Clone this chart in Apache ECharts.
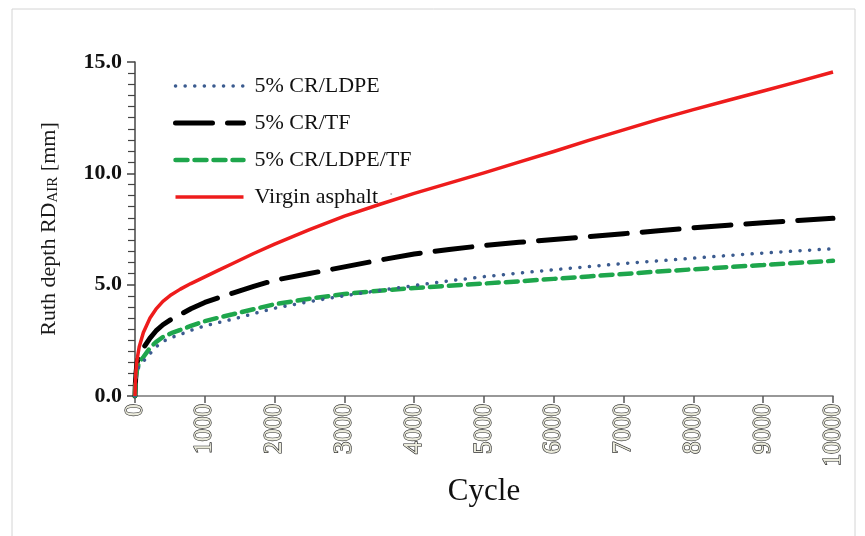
<!DOCTYPE html>
<html>
<head>
<meta charset="utf-8">
<script src="https://cdn.jsdelivr.net/npm/echarts@6/dist/echarts.min.js"></script>
<style>
  html, body { margin: 0; padding: 0; background: #ffffff; }
  #chart { width: 865px; height: 536px; }
</style>
</head>
<body>
<div id="chart"></div>
<script>
// Loading cycles at which rut depth was recorded
const cycles = [0, 5, 15, 30, 60, 120, 215, 300, 400, 520, 650, 800, 1000, 1200, 1400, 1700, 2000, 2500, 3000, 3500,
  4000, 4500, 5000, 5500, 6000, 6500, 7000, 7500, 8000, 8500, 9000, 9500, 10000];

// Rut depth RD_AIR [mm] for each mixture
const crLdpe = [0, 0.45, 0.8, 1.1, 1.35, 1.55, 1.9, 2.2, 2.45, 2.62, 2.77, 2.95, 3.15, 3.3, 3.45, 3.7, 3.94, 4.24, 4.5, 4.74,
  4.96, 5.17, 5.36, 5.52, 5.67, 5.81, 5.95, 6.07, 6.19, 6.31, 6.42, 6.52, 6.61];
const crTf = [0, 0.55, 1.05, 1.5, 1.85, 2.15, 2.6, 2.92, 3.2, 3.45, 3.66, 3.92, 4.2, 4.42, 4.62, 4.92, 5.2, 5.5, 5.8, 6.1,
  6.38, 6.58, 6.76, 6.9, 7.03, 7.16, 7.29, 7.42, 7.55, 7.67, 7.78, 7.88, 7.98];
const crLdpeTf = [0, 0.5, 0.9, 1.2, 1.5, 1.75, 2.16, 2.42, 2.65, 2.82, 2.97, 3.15, 3.36, 3.52, 3.67, 3.9, 4.12, 4.37, 4.58, 4.73,
  4.85, 4.95, 5.05, 5.15, 5.26, 5.37, 5.48, 5.59, 5.69, 5.79, 5.88, 5.98, 6.07];
const virgin = [0, 0.6, 1.15, 1.65, 2.2, 2.85, 3.5, 3.9, 4.25, 4.55, 4.8, 5.05, 5.35, 5.65, 5.95, 6.4, 6.82, 7.47, 8.08, 8.6,
  9.1, 9.56, 10.02, 10.5, 10.98, 11.48, 11.95, 12.42, 12.86, 13.28, 13.7, 14.12, 14.55];

const seriesNames = ['5% CR/LDPE', '5% CR/TF', '5% CR/LDPE/TF', 'Virgin asphalt'];

// Axis ticks
const xTicks = { min: 0, max: 10000, step: 1000 };
const yTicks = { min: 0, max: 15, step: 5 };

const pair = vals => cycles.map((c, i) => [c, vals[i]]);
const serif = '"Liberation Serif", "DejaVu Serif", serif';

// Stroke styles shared by each curve and its legend swatch
const styles = [
  { color: '#3b5b8f', width: 3.5, type: [0.1, 9.5], cap: 'round' },
  { color: '#000000', width: 5, type: [37, 15], cap: 'round' },
  { color: '#1ea64c', width: 4.5, type: [12, 7], cap: 'round' },
  { color: '#ee1c1c', width: 3.5, type: 'solid', join: 'round' }
];
const seriesValues = [crLdpe, crTf, crLdpeTf, virgin];
const zOrder = [3, 2, 2, 4];

const chart = echarts.init(document.getElementById('chart'), null, { renderer: 'canvas' });

chart.setOption({
  backgroundColor: '#ffffff',
  animation: false,
  graphic: [{
    type: 'rect',
    shape: { x: 12, y: 9, width: 843, height: 540 },
    style: { fill: 'none', stroke: '#d4d4d4', lineWidth: 1 },
    silent: true
  }],
  grid: { left: 135, top: 62, right: 32, bottom: 140 },
  legend: {
    orient: 'vertical',
    left: 168,
    top: 70,
    itemWidth: 68,
    itemHeight: 14,
    itemGap: 15,
    data: seriesNames.map((n, i) => ({
      name: n,
      itemStyle: { opacity: 0 },
      lineStyle: Object.assign({}, styles[i])
    })),
    itemStyle: { opacity: 0 },
    textStyle: {
      fontFamily: serif,
      fontSize: 22,
      color: '#111',
      padding: [0, 0, 0, 6],
      rich: {
        n: { fontFamily: serif, fontSize: 22, color: '#111' },
        c: { fontFamily: serif, fontSize: 16, color: '#bbbbbb' }
      }
    },
    formatter: name => name === 'Virgin asphalt' ? '{n|Virgin asphalt}  {c|:}' : name
  },
  xAxis: {
    type: 'value',
    min: xTicks.min,
    max: xTicks.max,
    interval: xTicks.step,
    name: 'Cycle',
    nameLocation: 'middle',
    nameGap: 80,
    nameTextStyle: { fontFamily: serif, fontSize: 31, color: '#111' },
    axisLine: { lineStyle: { color: '#777', width: 1.5 } },
    axisTick: { show: true, length: 7, lineStyle: { color: '#555', width: 1.5 } },
    axisLabel: {
      rotate: 90,
      margin: 8,
      fontFamily: serif,
      fontSize: 25,
      color: '#ebebdc',
      textBorderColor: '#2a2a2a',
      textBorderWidth: 1.3,
      formatter: v => String(v)
    },
    splitLine: { show: false }
  },
  yAxis: {
    type: 'value',
    min: yTicks.min,
    max: yTicks.max,
    interval: yTicks.step,
    name: '{m|Ruth depth RD}{s|AIR}{m| [mm]}',
    nameLocation: 'middle',
    nameGap: 74,
    nameRotate: 90,
    nameTextStyle: {
      rich: {
        m: { fontFamily: serif, fontSize: 22, color: '#1a1a1a' },
        s: { fontFamily: serif, fontSize: 15, color: '#1a1a1a', verticalAlign: 'bottom', padding: [8, 0, 0, 0] }
      }
    },
    axisLine: { show: true, lineStyle: { color: '#444', width: 1.5 } },
    axisTick: { show: true, length: 8, lineStyle: { color: '#444', width: 1.5 } },
    minorTick: { show: true, splitNumber: 10, length: 7, lineStyle: { color: '#444', width: 1.2 } },
    axisLabel: {
      margin: 13,
      fontFamily: serif,
      fontSize: 22,
      fontWeight: 'bold',
      color: '#111',
      formatter: v => v.toFixed(1)
    },
    splitLine: { show: false }
  },
  series: seriesNames.map((n, i) => ({
    name: n,
    type: 'line',
    data: pair(seriesValues[i]),
    symbol: 'none',
    showSymbol: false,
    smooth: false,
    color: styles[i].color,
    lineStyle: Object.assign({}, styles[i]),
    z: zOrder[i]
  }))
});
</script>
</body>
</html>
